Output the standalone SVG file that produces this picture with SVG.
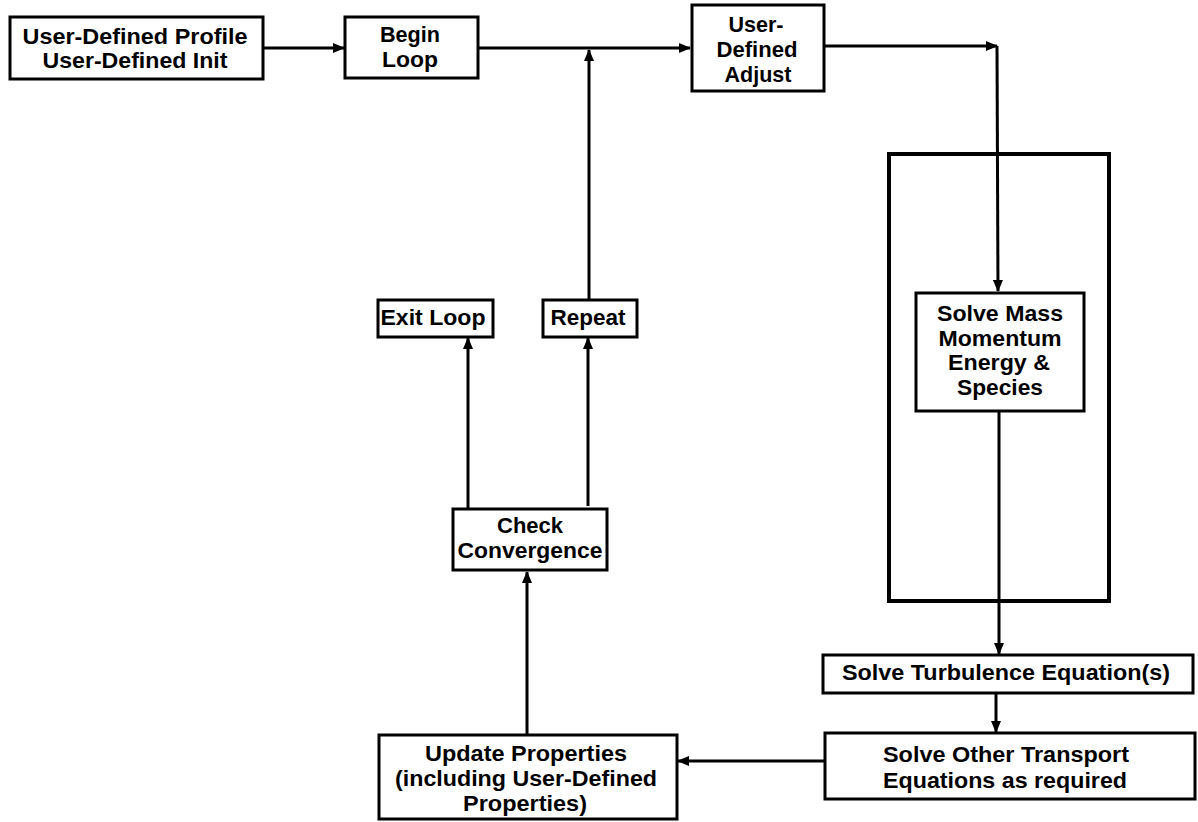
<svg xmlns="http://www.w3.org/2000/svg" width="1198" height="822" viewBox="0 0 1198 822">
<defs>
<style>
.box{fill:#fff;stroke:#000;stroke-width:3}
.big{fill:none;stroke:#000;stroke-width:4}
.c{fill:none;stroke:#000;stroke-width:3}
text{font-family:"Liberation Sans",Arial,sans-serif;font-weight:bold;font-size:22px;text-anchor:middle;fill:#000}
</style>
<marker id="ah" markerUnits="userSpaceOnUse" markerWidth="12" markerHeight="10" refX="11" refY="5" orient="auto">
<path d="M0,0 L12,5 L0,10 z" fill="#000"/>
</marker>
</defs>
<rect width="1198" height="822" fill="#fff"/>
<g id="container">
<rect class="big" x="889" y="154" width="220" height="447"/>
</g>
<g id="connectors">
<line class="c" x1="263" y1="48" x2="344" y2="48" marker-end="url(#ah)"/>
<line class="c" x1="478" y1="48" x2="690" y2="48" marker-end="url(#ah)"/>
<line class="c" x1="589" y1="300" x2="589" y2="50" marker-end="url(#ah)"/>
<line class="c" x1="824" y1="46" x2="997" y2="46" marker-end="url(#ah)"/>
<line class="c" x1="997" y1="46" x2="998" y2="291" marker-end="url(#ah)"/>
<line class="c" x1="999" y1="411" x2="999" y2="654" marker-end="url(#ah)"/>
<line class="c" x1="996" y1="693" x2="996" y2="732" marker-end="url(#ah)"/>
<line class="c" x1="825" y1="761" x2="678" y2="761" marker-end="url(#ah)"/>
<line class="c" x1="527" y1="735" x2="527" y2="572" marker-end="url(#ah)"/>
<line class="c" x1="468" y1="509" x2="468" y2="338" marker-end="url(#ah)"/>
<line class="c" x1="588" y1="506" x2="588" y2="338" marker-end="url(#ah)"/>
</g>
<g id="n-profile">
<rect class="box" x="10" y="17" width="253" height="62"/>
<text x="135" y="44" textLength="225" lengthAdjust="spacingAndGlyphs">User-Defined Profile</text>
<text x="135" y="68" textLength="185" lengthAdjust="spacingAndGlyphs">User-Defined Init</text>
</g>
<g id="n-begin">
<rect class="box" x="345" y="17" width="133" height="61"/>
<text x="410" y="42" textLength="60" lengthAdjust="spacingAndGlyphs">Begin</text>
<text x="410" y="67" textLength="56" lengthAdjust="spacingAndGlyphs">Loop</text>
</g>
<g id="n-adjust">
<rect class="box" x="692" y="5" width="132" height="86"/>
<text x="756" y="32" textLength="55" lengthAdjust="spacingAndGlyphs">User-</text>
<text x="757" y="57" textLength="81" lengthAdjust="spacingAndGlyphs">Defined</text>
<text x="758" y="82" textLength="67" lengthAdjust="spacingAndGlyphs">Adjust</text>
</g>
<g id="n-solvemass">
<rect class="box" x="916" y="293" width="168" height="118"/>
<text x="1000" y="321" textLength="126" lengthAdjust="spacingAndGlyphs">Solve Mass</text>
<text x="1000" y="346" textLength="123" lengthAdjust="spacingAndGlyphs">Momentum</text>
<text x="999" y="370" textLength="102" lengthAdjust="spacingAndGlyphs">Energy &amp;</text>
<text x="1000" y="395" textLength="86" lengthAdjust="spacingAndGlyphs">Species</text>
</g>
<g id="n-turb">
<rect class="box" x="823" y="655" width="370" height="38"/>
<text x="1006" y="680" textLength="328" lengthAdjust="spacingAndGlyphs">Solve Turbulence Equation(s)</text>
</g>
<g id="n-other">
<rect class="box" x="825" y="733" width="370" height="66"/>
<text x="1006" y="762" textLength="246" lengthAdjust="spacingAndGlyphs">Solve Other Transport</text>
<text x="1005" y="788" textLength="244" lengthAdjust="spacingAndGlyphs">Equations as required</text>
</g>
<g id="n-update">
<rect class="box" x="379" y="735" width="298" height="84"/>
<text x="526" y="761" textLength="202" lengthAdjust="spacingAndGlyphs">Update Properties</text>
<text x="526" y="786" textLength="262" lengthAdjust="spacingAndGlyphs">(including User-Defined</text>
<text x="525" y="811" textLength="124" lengthAdjust="spacingAndGlyphs">Properties)</text>
</g>
<g id="n-check">
<rect class="box" x="453" y="509" width="154" height="61"/>
<text x="530" y="533" textLength="66" lengthAdjust="spacingAndGlyphs">Check</text>
<text x="530" y="558" textLength="145" lengthAdjust="spacingAndGlyphs">Convergence</text>
</g>
<g id="n-exit">
<rect class="box" x="378" y="300" width="115" height="37"/>
<text x="433" y="325" textLength="105" lengthAdjust="spacingAndGlyphs">Exit Loop</text>
</g>
<g id="n-repeat">
<rect class="box" x="543" y="300" width="94" height="37"/>
<text x="588" y="325" textLength="75" lengthAdjust="spacingAndGlyphs">Repeat</text>
</g>
</svg>
